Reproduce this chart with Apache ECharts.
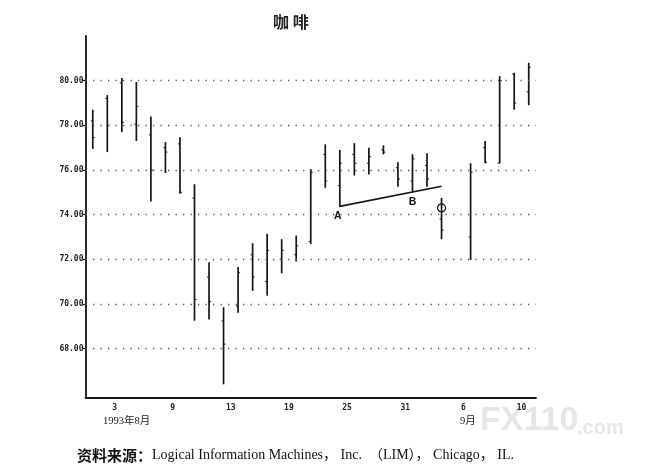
<!DOCTYPE html>
<html>
<head>
<meta charset="utf-8">
<script src="https://cdn.jsdelivr.net/npm/echarts@6/dist/echarts.min.js"></script>
<style>html,body{margin:0;padding:0;background:#fff}#c{width:657px;height:472px}</style>
</head>
<body>
<div id="c"></div>
<script>
// trading days, Aug 2 – Sep 13 1993 (9/6 Labor Day: empty slot)
const dates = ['8/2','8/3','8/4','8/5','8/6','8/9','8/10','8/11','8/12','8/13','8/16','8/17','8/18','8/19','8/20','8/23','8/24','8/25','8/26','8/27','8/30','8/31','9/1','9/2','9/3','9/6','9/7','9/8','9/9','9/10','9/13'];
const opens  = [78.2,79.2,79.9,78.05,77.57,77.0,77.17,74.74,71.2,69.24,69.9,72.2,71.0,72.0,72.2,72.8,76.7,75.3,76.7,76.3,76.9,76.1,75.5,76.2,73.8,null,73.0,77.0,76.3,80.3,79.5];
const closes = [77.45,78.0,78.13,78.85,76.0,76.8,75.0,70.2,70.1,68.2,71.4,71.2,72.4,72.4,72.6,75.9,75.5,76.3,76.3,76.6,76.8,75.6,76.5,75.6,73.3,null,75.9,76.35,80.0,79.0,80.6];
const lows   = [76.95,76.8,77.7,77.3,74.59,75.86,74.93,69.25,69.3,66.4,69.6,70.58,70.37,71.37,71.9,72.68,75.2,74.35,75.75,75.8,76.7,75.25,75.0,75.25,72.9,null,71.97,76.3,76.3,78.7,78.9];
const highs  = [78.7,79.35,80.12,79.94,78.4,77.25,77.47,75.36,71.87,69.85,71.65,72.72,73.14,72.9,73.06,76.04,77.15,76.9,77.2,77.0,77.1,76.35,76.7,76.75,74.75,null,76.3,77.3,80.2,80.35,80.8];

// axis labels
const labelDates = ['8/3','8/9','8/13','8/19','8/25','8/31','9/6','9/10'];
const labelTexts = ['3','9','13','19','25','31','6','10'];
const monthDates = ['8/3','9/6'];
const monthTexts = ['1993年8月','9月'];
const yTickValues = [68,70,72,74,76,78,80];

// annotations: trend line A-B and circled point
const trendStart = ['8/25', 74.37];
const trendEnd = ['9/3', 75.27];
const pointA = ['8/25', 74.37];
const pointB = ['9/1', 75.0];
const circlePoint = ['9/3', 74.3];

const title = '咖 啡';
const sourceLabel = '资料来源：';
const sourceText = 'Logical Information Machines， Inc.  （LIM）， Chicago， IL.';
const watermark = 'FX110';
const watermark2 = '.com';

const ohlc = [];
dates.forEach((d, i) => {
  if (highs[i] != null) ohlc.push([i, opens[i], closes[i], lows[i], highs[i]]);
});

const chart = echarts.init(document.getElementById('c'));
const ink = '#151515';
const monoFont = "'DejaVu Sans Mono', 'Liberation Mono', monospace";
const serifFont = "'Liberation Serif', 'Noto Sans CJK SC', serif";

chart.setOption({
  animation: false,
  backgroundColor: '#fff',
  title: [
    { text: title, left: 268, top: 9,
      textStyle: { fontFamily: "'Noto Sans CJK SC'", fontSize: 16, fontWeight: 'bold', color: '#222' } },
    { text: '{b|' + sourceLabel + '}{s|' + sourceText + '}', left: 72, top: 443,
      textStyle: { fontWeight: 'normal', rich: {
        b: { fontFamily: "'Noto Sans CJK SC'", fontWeight: 'bold', fontSize: 15, color: '#111' },
        s: { fontFamily: serifFont, fontWeight: 'normal', fontSize: 14, color: '#111' }
      } } }
  ],
  graphic: [
    { type: 'text', left: 480, top: 404, silent: true,
      style: { text: watermark, fill: '#e6e6e6', font: "bold 34px 'Liberation Sans'" } },
    { type: 'text', left: 577, top: 418, silent: true,
      style: { text: watermark2, fill: '#e6e6e6', font: "bold 20px 'Liberation Sans'" } }
  ],
  grid: { left: 85.5, right: 121, top: 36, bottom: 74.3 },
  xAxis: {
    type: 'category',
    data: dates,
    boundaryGap: true,
    axisLine: { lineStyle: { color: ink, width: 1.8 } },
    axisTick: { inside: true, length: 4, lineStyle: { color: ink, width: 1.2 },
      interval: (idx) => idx > 0 && idx % 2 === 0 },
    axisLabel: {
      interval: (idx, val) => labelDates.indexOf(val) >= 0,
      margin: 4,
      padding: [0, 0, 0, 14.5],
      formatter: (val) => {
        const k = labelDates.indexOf(val);
        const m = monthDates.indexOf(val);
        let s = '{d|' + labelTexts[k] + '}';
        if (m === 0) s += '\n{m|' + monthTexts[m] + '}';
        if (m === 1) s += '\n{n|' + monthTexts[m] + '}';
        return s;
      },
      rich: {
        d: { fontFamily: monoFont, fontWeight: 'bold', fontSize: 8, color: '#222', lineHeight: 12 },
        m: { fontFamily: serifFont, fontSize: 10.5, color: '#222', lineHeight: 15, padding: [0, 0, 0, 24] },
        n: { fontFamily: serifFont, fontSize: 10.5, color: '#222', lineHeight: 15, padding: [0, 0, 0, 9] }
      }
    },
    splitLine: { show: false }
  },
  yAxis: {
    type: 'value',
    min: 65.8,
    max: 82,
    axisLine: { show: true, lineStyle: { color: ink, width: 1.8 } },
    axisTick: { show: true, length: 3, customValues: yTickValues, lineStyle: { color: ink, width: 1.2 } },
    axisLabel: { customValues: yTickValues, margin: 2, formatter: (v) => v.toFixed(2),
      fontFamily: monoFont, fontWeight: 'bold', fontSize: 8, color: '#222' },
    splitLine: { show: false }
  },
  series: [{
    type: 'custom',
    data: ohlc,
    encode: { x: 0, y: [1, 2, 3, 4] },
    renderItem: (params, api) => {
      const i = api.value(0);
      const o = api.coord([i, api.value(1)]);
      const c = api.coord([i, api.value(2)]);
      const l = api.coord([i, api.value(3)]);
      const h = api.coord([i, api.value(4)]);
      const x = o[0];
      const st = { stroke: ink, lineWidth: 1.7 };
      return { type: 'group', children: [
        { type: 'line', shape: { x1: x, y1: h[1], x2: x, y2: l[1] }, style: st },
        { type: 'line', shape: { x1: x - 2, y1: o[1], x2: x, y2: o[1] }, style: { stroke: ink, lineWidth: 1 } },
        { type: 'line', shape: { x1: x, y1: c[1], x2: x + 2, y2: c[1] }, style: { stroke: ink, lineWidth: 1 } }
      ] };
    },
    markLine: {
      silent: true,
      symbol: 'none',
      animation: false,
      label: { show: false },
      data: yTickValues.map(v => ({ yAxis: v, lineStyle: { type: [1.3, 6.2], color: '#555', width: 1.3 } }))
        .concat([[ { coord: trendStart, lineStyle: { type: 'solid', color: ink, width: 1.6 } }, { coord: trendEnd } ]])
    },
    markPoint: {
      silent: true,
      animation: false,
      data: [
        { coord: circlePoint, symbol: 'circle', symbolSize: 8,
          itemStyle: { color: 'rgba(0,0,0,0)', borderColor: ink, borderWidth: 1.2 }, label: { show: false } },
        { coord: pointA, symbol: 'circle', symbolSize: 0,
          label: { show: true, formatter: 'A', position: 'bottom', distance: 4, offset: [-2, 0],
            fontFamily: "'Liberation Sans'", fontWeight: 'bold', fontSize: 10.5, color: '#111' } },
        { coord: pointB, symbol: 'circle', symbolSize: 0,
          label: { show: true, formatter: 'B', position: 'bottom', distance: 4, offset: [0, 0],
            fontFamily: "'Liberation Sans'", fontWeight: 'bold', fontSize: 10.5, color: '#111' } }
      ]
    }
  }]
});
</script>
</body>
</html>
